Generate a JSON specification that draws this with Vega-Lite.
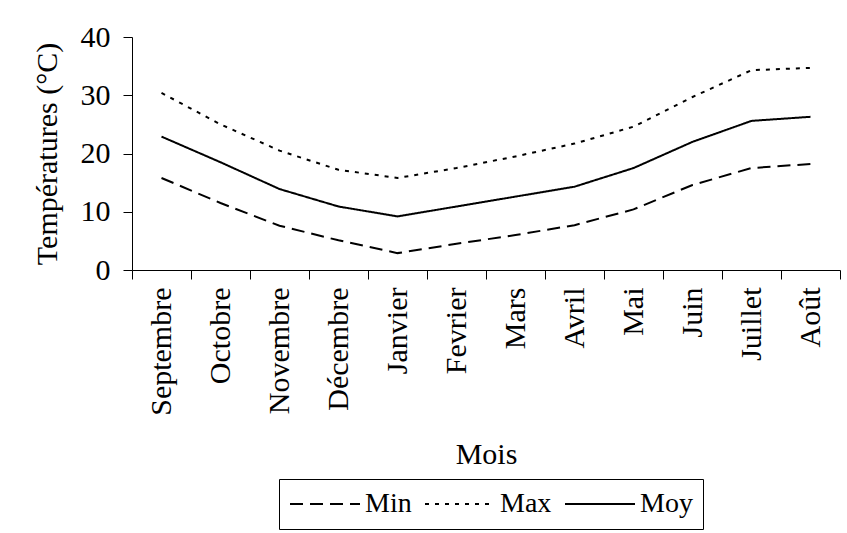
{
  "$schema": "https://vega.github.io/schema/vega-lite/v6.json",
  "autosize": {"type": "none"},
  "width": 708,
  "height": 233,
  "padding": {"left": 132, "top": 37, "right": 7, "bottom": 263},
  "background": "white",
  "config": {
    "view": {"stroke": null},
    "font": "Liberation Serif",
    "axis": {
      "domainColor": "black",
      "tickColor": "black",
      "labelColor": "black",
      "titleColor": "black",
      "labelFont": "Liberation Serif",
      "titleFont": "Liberation Serif",
      "labelFontSize": 30,
      "titleFontSize": 30,
      "titleFontWeight": "normal",
      "grid": false,
      "tickSize": 9,
      "domainWidth": 1,
      "tickWidth": 1
    },
    "legend": {
      "labelFont": "Liberation Serif",
      "labelFontSize": 28,
      "labelColor": "black"
    }
  },
  "data": {
    "values": [
      {"mois": "Septembre", "serie": "Min", "t": 15.8},
      {"mois": "Octobre", "serie": "Min", "t": 11.5},
      {"mois": "Novembre", "serie": "Min", "t": 7.6},
      {"mois": "Décembre", "serie": "Min", "t": 5.1},
      {"mois": "Janvier", "serie": "Min", "t": 2.9},
      {"mois": "Fevrier", "serie": "Min", "t": 4.5},
      {"mois": "Mars", "serie": "Min", "t": 6.0},
      {"mois": "Avril", "serie": "Min", "t": 7.7},
      {"mois": "Mai", "serie": "Min", "t": 10.4},
      {"mois": "Juin", "serie": "Min", "t": 14.6},
      {"mois": "Juillet", "serie": "Min", "t": 17.5},
      {"mois": "Août", "serie": "Min", "t": 18.2},
      {"mois": "Septembre", "serie": "Max", "t": 30.4},
      {"mois": "Octobre", "serie": "Max", "t": 25.0},
      {"mois": "Novembre", "serie": "Max", "t": 20.5},
      {"mois": "Décembre", "serie": "Max", "t": 17.2},
      {"mois": "Janvier", "serie": "Max", "t": 15.8},
      {"mois": "Fevrier", "serie": "Max", "t": 17.5},
      {"mois": "Mars", "serie": "Max", "t": 19.5},
      {"mois": "Avril", "serie": "Max", "t": 21.7},
      {"mois": "Mai", "serie": "Max", "t": 24.6},
      {"mois": "Juin", "serie": "Max", "t": 29.7},
      {"mois": "Juillet", "serie": "Max", "t": 34.3},
      {"mois": "Août", "serie": "Max", "t": 34.7},
      {"mois": "Septembre", "serie": "Moy", "t": 22.9},
      {"mois": "Octobre", "serie": "Moy", "t": 18.5},
      {"mois": "Novembre", "serie": "Moy", "t": 13.9},
      {"mois": "Décembre", "serie": "Moy", "t": 10.9},
      {"mois": "Janvier", "serie": "Moy", "t": 9.2},
      {"mois": "Fevrier", "serie": "Moy", "t": 10.9},
      {"mois": "Mars", "serie": "Moy", "t": 12.6},
      {"mois": "Avril", "serie": "Moy", "t": 14.3},
      {"mois": "Mai", "serie": "Moy", "t": 17.5},
      {"mois": "Juin", "serie": "Moy", "t": 22.0},
      {"mois": "Juillet", "serie": "Moy", "t": 25.6},
      {"mois": "Août", "serie": "Moy", "t": 26.3}
    ]
  },
  "mark": {"type": "line", "color": "black"},
  "encoding": {
    "x": {
      "field": "mois",
      "type": "nominal",
      "sort": ["Septembre", "Octobre", "Novembre", "Décembre", "Janvier", "Fevrier", "Mars", "Avril", "Mai", "Juin", "Juillet", "Août"],
      "scale": {"type": "band", "paddingInner": 0, "paddingOuter": 0},
      "axis": {
        "title": "Mois",
        "labelAngle": -90,
        "labelPadding": 8,
        "titlePadding": 24,
        "tickBand": "extent"
      }
    },
    "y": {
      "field": "t",
      "type": "quantitative",
      "scale": {"domain": [0, 40], "nice": false, "zero": true},
      "axis": {
        "title": "Températures (°C)",
        "values": [0, 10, 20, 30, 40],
        "labelPadding": 13,
        "titlePadding": 18
      }
    },
    "strokeDash": {
      "field": "serie",
      "type": "nominal",
      "scale": {"domain": ["Min", "Max", "Moy"], "range": [[13, 7], [4, 6], [1, 0]]},
      "legend": {
        "title": null,
        "orient": "none",
        "legendX": 147,
        "legendY": 442,
        "direction": "horizontal",
        "strokeColor": "black",
        "padding": 10,
        "symbolType": "stroke",
        "symbolSize": 4900,
        "symbolStrokeColor": "black",
        "clipHeight": 30,
        "labelOffset": 4,
        "columnPadding": 12
      }
    },
    "strokeWidth": {
      "field": "serie",
      "type": "nominal",
      "scale": {"domain": ["Min", "Max", "Moy"], "range": [2, 2, 1.2]},
      "legend": {
        "title": null,
        "orient": "none",
        "legendX": 147,
        "legendY": 442,
        "direction": "horizontal"
      }
    }
  }
}
